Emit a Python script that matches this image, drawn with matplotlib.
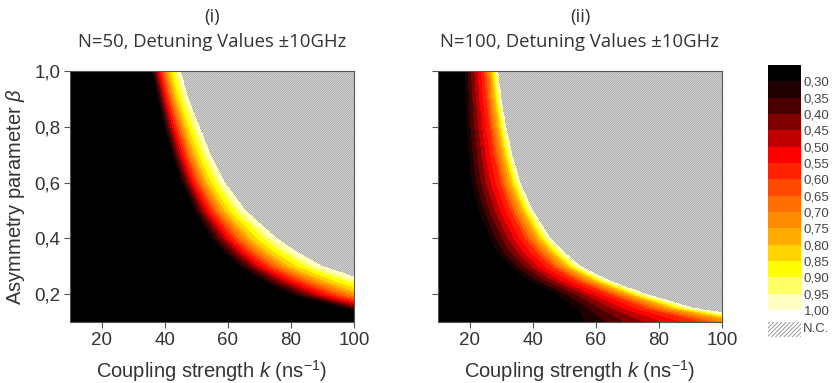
import numpy as np
import matplotlib
matplotlib.use("Agg")
import matplotlib.pyplot as plt
from matplotlib.colors import ListedColormap, BoundaryNorm
from matplotlib.cm import ScalarMappable
from matplotlib.patches import Rectangle

plt.rcParams['font.family'] = ['Liberation Sans', 'DejaVu Sans']
plt.rcParams['mathtext.fontset'] = 'custom'
plt.rcParams['mathtext.rm'] = 'Liberation Sans'
plt.rcParams['mathtext.it'] = 'Liberation Sans:italic'
plt.rcParams['hatch.linewidth'] = 0.6

# ---- data ----
titles_top = ["(i)", "(ii)"]
titles_sub = ["N=50, Detuning Values \u00b110GHz", "N=100, Detuning Values \u00b110GHz"]

beta_rows = [1.0, 0.9, 0.8, 0.7, 0.6, 0.5, 0.4, 0.35, 0.3, 0.25, 0.2, 0.15, 0.1]
# panel (i): coupling k where the value reaches 0.30, 0.60, 0.80 and where N.C. begins (1.00)
k30_i = [36, 38, 40, 42.5, 45.5, 49.5, 55, 59, 64, 71, 80, 97, 120]
k60_i = [39.2, 41.3, 43.9, 46.7, 50.2, 55.1, 62.2, 67.1, 73.1, 82.2, 93.3, 110.3, 134]
k80_i = [41.4, 43.7, 46.6, 49.7, 53.6, 59.1, 67.3, 72.8, 79.6, 90.2, 102.8, 119.8, 144]
kNC_i = [45, 47.5, 51, 54.5, 59, 65.5, 75.5, 82, 90, 103, 118, 135, 160]
# panel (ii)
k30_ii = [18.5, 18.8, 19.2, 19.8, 20.7, 23, 26.6, 29, 33, 39, 48, 54, 57]
k60_ii = [24.8, 25.5, 26.6, 28.0, 29.9, 33.2, 37.9, 41.6, 46.2, 54, 64.8, 76.2, 94.2]
k80_ii = [27.2, 28.1, 29.4, 31.2, 33.4, 37.1, 42.3, 46.4, 51.3, 59.8, 71.2, 84.7, 108.5]
kNC_ii = [29, 30, 31.5, 33.5, 36, 40, 45.5, 50, 55, 64, 76, 91, 119]
anchor_values = [0.30, 0.60, 0.80, 1.00]

levels = [0.25, 0.30, 0.35, 0.40, 0.45, 0.50, 0.55, 0.60, 0.65, 0.70,
          0.75, 0.80, 0.85, 0.90, 0.95, 1.00]
level_colors = ['#000000', '#1e0000', '#4a0000', '#800000', '#c00000',
                '#ff0000', '#ff2200', '#ff4800', '#ff7000', '#ff8c00',
                '#ffab00', '#ffd400', '#ffff00', '#ffff66', '#ffffc4']
cbar_ticks = levels[1:]
x_ticks = [20, 40, 60, 80, 100]
y_ticks = [0.2, 0.4, 0.6, 0.8, 1.0]
k_range = (10, 100)
beta_range = (0.1, 1.0)

W, H = 834, 383
fig = plt.figure(figsize=(W / 100, H / 100), dpi=100)

def frac(x0, y0, x1, y1):
    return [x0 / W, 1 - y1 / H, (x1 - x0) / W, (y1 - y0) / H]

cmap = ListedColormap(level_colors)
norm = BoundaryNorm(levels, cmap.N)

def field(anchors):
    kk = np.linspace(k_range[0], k_range[1], 500)
    bb = np.linspace(beta_range[0], beta_range[1], 400)
    br = np.array(beta_rows)[::-1]
    rows = [np.interp(bb, br, np.array(a)[::-1]) for a in anchors]
    Z = np.empty((bb.size, kk.size))
    for j in range(bb.size):
        Z[j] = np.interp(kk, [r[j] for r in rows], anchor_values,
                         left=0.27, right=np.nan)
    return kk, bb, Z

panels = [(k30_i, k60_i, k80_i, kNC_i), (k30_ii, k60_ii, k80_ii, kNC_ii)]
axes_px = [(70, 71, 354, 322), (438, 71, 722, 322)]

for i, (data, box) in enumerate(zip(panels, axes_px)):
    ax = fig.add_axes(frac(*box))
    ax.add_patch(Rectangle((k_range[0], beta_range[0]), k_range[1] - k_range[0],
                           beta_range[1] - beta_range[0], facecolor='#e6e6e6',
                           edgecolor='#a0a0a0', hatch='/' * 15, lw=0, zorder=0.5))
    kk, bb, Z = field(data)
    ax.contourf(kk, bb, Z, levels=levels, colors=level_colors, zorder=1)
    ax.set_xlim(*k_range)
    ax.set_ylim(*beta_range)
    ax.set_xticks(x_ticks)
    ax.set_yticks(y_ticks)
    ax.set_xticklabels([str(v) for v in x_ticks])
    if i == 0:
        ax.set_yticklabels([f"{v:.1f}".replace('.', ',') for v in y_ticks])
        ax.set_ylabel(r"Asymmetry parameter $\beta$", fontsize=14.5, color='#333333', labelpad=5)
    else:
        ax.set_yticklabels([])
    ax.tick_params(direction='out', length=4, width=0.8, labelsize=13.5,
                   colors='#555555', labelcolor='#333333', pad=3)
    ax.set_xlabel(r"Coupling strength $k$ (ns$^{-1}$)", fontsize=14.5, color='#333333', labelpad=7)
    for s in ax.spines.values():
        s.set_color('#555555')
        s.set_linewidth(0.8)
    cx = (box[0] + box[2]) / 2 / W
    fig.text(cx, 1 - 17 / H, titles_top[i], ha='center', va='center',
             fontsize=13.3, family='Open Sans', color='#333333')
    fig.text(cx, 1 - 42 / H, titles_sub[i], ha='center', va='center',
             fontsize=13.3, family='Open Sans', color='#333333')

# colorbar (black at the top, pale at the bottom)
cax = fig.add_axes(frac(768, 65, 801, 310))
cb = fig.colorbar(ScalarMappable(norm=norm, cmap=cmap), cax=cax, ticks=cbar_ticks)
cb.set_ticklabels([f"{v:.2f}".replace('.', ',') for v in cbar_ticks])
cax.invert_yaxis()
cb.outline.set_visible(False)
cax.minorticks_off()
cax.tick_params(which='both', length=0, labelsize=9.5, labelcolor='#444444', pad=2)

# N.C. legend patch
nax = fig.add_axes(frac(768, 322, 801, 337))
nax.add_patch(Rectangle((0, 0), 1, 1, transform=nax.transAxes, facecolor='white',
                        edgecolor='#8a8a8a', hatch='/' * 8, lw=0))
nax.set_axis_off()
fig.text(803 / W, 1 - 329 / H, "N.C.", ha='left', va='center', fontsize=9.5, color='#444444')

fig.savefig("out.png", dpi=100)
